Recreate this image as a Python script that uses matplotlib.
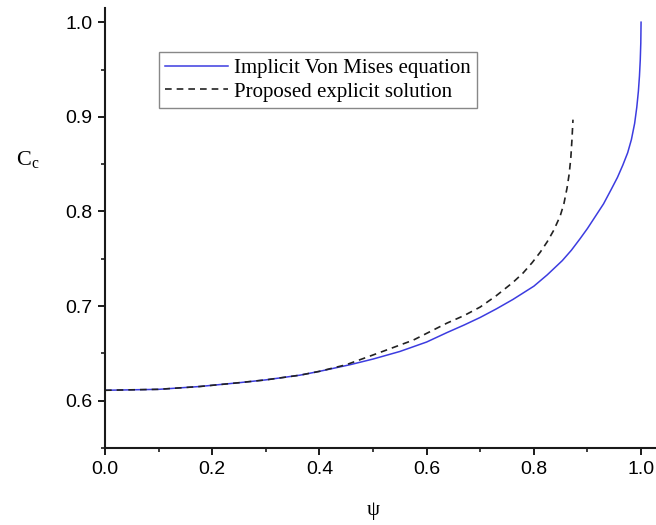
import matplotlib
matplotlib.use("Agg")
import matplotlib.pyplot as plt
from matplotlib.ticker import MultipleLocator

plt.rcParams['mathtext.fontset'] = 'custom'
plt.rcParams['mathtext.rm'] = 'Liberation Serif'
plt.rcParams['mathtext.it'] = 'Liberation Serif:italic'

# Implicit Von Mises equation
psi_vm = [0.0, 0.1, 0.177, 0.25, 0.3, 0.364, 0.4, 0.457, 0.5, 0.55, 0.6, 0.638, 0.67, 0.7,
          0.73, 0.761, 0.8, 0.825, 0.853, 0.87, 0.886, 0.9, 0.915, 0.93, 0.945, 0.956, 0.966,
          0.975, 0.982, 0.988, 0.992, 0.995, 0.997, 0.9985, 0.9995, 1.0]
cc_vm = [0.611, 0.612, 0.615, 0.619, 0.622, 0.627, 0.631, 0.638, 0.644, 0.652, 0.662, 0.672,
         0.680, 0.688, 0.697, 0.707, 0.721, 0.733, 0.748, 0.759, 0.771, 0.782, 0.795, 0.808,
         0.824, 0.836, 0.849, 0.862, 0.876, 0.893, 0.910, 0.927, 0.943, 0.960, 0.978, 1.0]

# Proposed explicit solution
psi_ex = [0.0, 0.1, 0.177, 0.25, 0.3, 0.364, 0.4, 0.45, 0.513, 0.575, 0.638, 0.67, 0.70, 0.73,
          0.761, 0.78, 0.797, 0.812, 0.825, 0.837, 0.849, 0.856, 0.862, 0.866, 0.869, 0.871,
          0.873]
cc_ex = [0.611, 0.612, 0.615, 0.619, 0.622, 0.627, 0.631, 0.638, 0.651, 0.664, 0.682, 0.690,
         0.699, 0.711, 0.725, 0.735, 0.746, 0.757, 0.768, 0.780, 0.795, 0.808, 0.825, 0.840,
         0.857, 0.875, 0.897]

xticks = [0.0, 0.2, 0.4, 0.6, 0.8, 1.0]
yticks = [0.6, 0.7, 0.8, 0.9, 1.0]

fig = plt.figure(figsize=(6.56, 5.25), dpi=100)
ax = fig.add_axes([105/656, 1-448/525, 550/656, 440/525])

ax.plot(psi_vm, cc_vm, color='#3c3ce0', lw=1.1, label='Implicit Von Mises equation')
ax.plot(psi_ex, cc_ex, color='#222222', lw=1.2, ls=(0, (4, 3)), label='Proposed explicit solution')

ax.set_xlim(0, 1.026)
ax.set_ylim(0.55, 1.015)
ax.set_xticks(xticks)
ax.set_yticks(yticks)
ax.set_xticklabels([f"{v:.1f}" for v in xticks])
ax.set_yticklabels([f"{v:.1f}" for v in yticks])
ax.xaxis.set_minor_locator(MultipleLocator(0.1))
ax.yaxis.set_minor_locator(MultipleLocator(0.05))

for s in ['top', 'right']:
    ax.spines[s].set_visible(False)
for s in ['left', 'bottom']:
    ax.spines[s].set_linewidth(1.5)
    ax.spines[s].set_color('#1a1a1a')

ax.tick_params(which='major', direction='out', length=5, width=1.4, labelsize=14,
               color='#1a1a1a', pad=4)
ax.tick_params(which='minor', direction='out', length=3, width=1.2, color='#1a1a1a')
for lab in ax.get_xticklabels() + ax.get_yticklabels():
    lab.set_family('Liberation Sans')

fig.text(373/656, 1-510/525, 'ψ', family='Liberation Serif', fontsize=15, ha='center', va='center')
fig.text(28/656, 1-160/525, r'C$_{\rm c}$', family='Liberation Serif', fontsize=16,
         ha='center', va='center')

leg = ax.legend(loc='upper left', bbox_to_anchor=(0.098, 0.9), borderaxespad=0,
                prop={'family': 'Liberation Serif', 'size': 15}, fancybox=False,
                framealpha=1, edgecolor='#888888', handlelength=3.0, handletextpad=0.3,
                borderpad=0.3, labelspacing=0.2)
leg.get_frame().set_linewidth(1.0)

fig.savefig('out.png', dpi=100)
